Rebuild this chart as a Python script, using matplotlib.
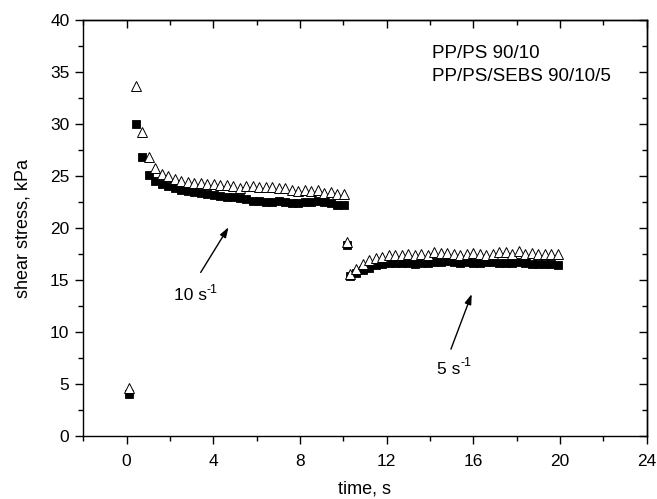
import matplotlib
matplotlib.use("Agg")
import matplotlib.pyplot as plt
from matplotlib.ticker import MultipleLocator

plt.rcParams['font.family'] = ['Liberation Sans', 'DejaVu Sans']

# ---- data ----
t1 = [0.13, 0.43, 0.73, 1.03, 1.33, 1.63, 1.93, 2.23, 2.53, 2.83, 3.13, 3.43,
      3.73, 4.03, 4.33, 4.63, 4.93, 5.23, 5.53, 5.83, 6.13, 6.43, 6.73, 7.03,
      7.33, 7.63, 7.93, 8.23, 8.53, 8.83, 9.13, 9.43, 9.73, 10.03]
tri1 = [4.6, 33.7, 29.2, 26.8, 25.8, 25.2, 25.0, 24.7, 24.5, 24.4, 24.3, 24.3,
        24.2, 24.2, 24.1, 24.1, 24.0, 23.8, 24.0, 24.0, 23.9, 23.9, 23.9, 23.8,
        23.8, 23.7, 23.6, 23.7, 23.6, 23.7, 23.4, 23.5, 23.3, 23.3]
sq1 = [4.0, 30.0, 26.8, 25.1, 24.5, 24.2, 24.0, 23.8, 23.7, 23.6, 23.5, 23.4,
       23.3, 23.2, 23.1, 23.0, 23.0, 22.9, 22.8, 22.6, 22.6, 22.5, 22.5, 22.6,
       22.5, 22.4, 22.4, 22.5, 22.5, 22.6, 22.5, 22.4, 22.2, 22.2]

t2 = [10.15, 10.3, 10.6, 10.9, 11.2, 11.5, 11.8, 12.1, 12.4, 12.7, 13.0, 13.3,
      13.6, 13.9, 14.2, 14.5, 14.8, 15.1, 15.4, 15.7, 16.0, 16.3, 16.6, 16.9,
      17.2, 17.5, 17.8, 18.1, 18.4, 18.7, 19.0, 19.3, 19.6, 19.9]
tri2 = [18.7, 15.6, 16.1, 16.5, 16.9, 17.1, 17.2, 17.4, 17.4, 17.4, 17.5, 17.4,
        17.5, 17.4, 17.7, 17.6, 17.6, 17.5, 17.4, 17.5, 17.6, 17.5, 17.4, 17.5,
        17.7, 17.7, 17.5, 17.8, 17.5, 17.6, 17.5, 17.5, 17.5, 17.5]
sq2 = [18.4, 15.4, 15.7, 16.0, 16.2, 16.4, 16.5, 16.6, 16.6, 16.6, 16.6, 16.5,
       16.6, 16.6, 16.7, 16.7, 16.8, 16.7, 16.6, 16.7, 16.6, 16.6, 16.7, 16.7,
       16.6, 16.6, 16.6, 16.7, 16.6, 16.5, 16.5, 16.5, 16.5, 16.4]

legend_lines = ["PP/PS 90/10", "PP/PS/SEBS 90/10/5"]
x_ticks = [0, 4, 8, 12, 16, 20, 24]
y_ticks = [0, 5, 10, 15, 20, 25, 30, 35, 40]

# ---- figure ----
fig = plt.figure(figsize=(6.57, 4.99), dpi=100)
ax = fig.add_axes([83.3 / 657, 1 - 436 / 499, (646.7 - 83.3) / 657, (436 - 20) / 499])

for t, s in ((t1, sq1), (t2, sq2)):
    ax.plot(t, s, linestyle='none', marker='s', ms=5.7, mfc='black', mec='black', mew=0.6)
for t, s in ((t1, tri1), (t2, tri2)):
    ax.plot(t, s, linestyle='none', marker='^', ms=7, mfc='white', mec='black', mew=0.7)

ax.set_xlim(-2, 24)
ax.set_ylim(0, 40)
ax.set_xticks(x_ticks)
ax.set_yticks(y_ticks)
ax.xaxis.set_minor_locator(MultipleLocator(2))
ax.yaxis.set_minor_locator(MultipleLocator(2.5))

for sp in ax.spines.values():
    sp.set_linewidth(1.0)

ax.tick_params(axis='both', which='major', length=6, width=1.0, labelsize=12.5)
ax.tick_params(axis='both', which='minor', length=3.5, width=1.0)
ax.tick_params(axis='x', which='both', direction='out', top=False, pad=7)
ax.tick_params(axis='y', which='both', direction='out', right=False, pad=4)

secx = ax.secondary_xaxis('top')
secx.set_xticks(x_ticks)
secx.xaxis.set_minor_locator(MultipleLocator(2))
secx.tick_params(which='major', direction='in', length=6, width=1.0, labeltop=False)
secx.tick_params(which='minor', direction='in', length=3.5, width=1.0)
secx.spines['top'].set_linewidth(1.0)

secy = ax.secondary_yaxis('right')
secy.set_yticks(y_ticks)
secy.yaxis.set_minor_locator(MultipleLocator(2.5))
secy.tick_params(which='major', direction='in', length=6, width=1.0, labelright=False)
secy.tick_params(which='minor', direction='in', length=3.5, width=1.0)
secy.spines['right'].set_linewidth(1.0)

ax.set_xlabel("time, s", fontsize=13, labelpad=8)
ax.set_ylabel("shear stress, kPa", fontsize=13, labelpad=13)

ax.text(14.1, 36.8, legend_lines[0], fontsize=13.5, ha='left', va='center')
ax.text(14.1, 34.6, legend_lines[1], fontsize=13.5, ha='left', va='center')

def rate_label(x, y, num):
    base = ax.text(x, y, num + " s", fontsize=12.5, ha='right', va='center')
    ax.annotate("-1", xy=(1.0, 0.9), xycoords=base, fontsize=9, ha='left', va='center')

ax.annotate("", xy=(4.77, 20.3), xytext=(3.35, 15.5),
            arrowprops=dict(arrowstyle='-|>,head_length=0.6,head_width=0.2', color='black', lw=1.0))
rate_label(3.7, 13.5, "10")

ax.annotate("", xy=(15.97, 13.9), xytext=(14.92, 8.1),
            arrowprops=dict(arrowstyle='-|>,head_length=0.6,head_width=0.2', color='black', lw=1.0))
rate_label(15.4, 6.4, "5")

fig.savefig("out.png", dpi=100)
